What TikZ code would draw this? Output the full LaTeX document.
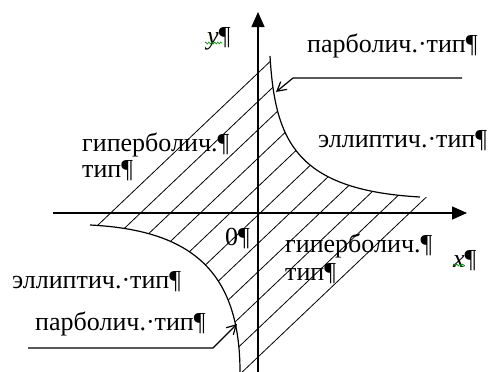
\documentclass[tikz,border=0pt]{standalone}
\usepackage{fontspec}
\setmainfont{Liberation Serif}
\usetikzlibrary{arrows.meta,decorations.pathmorphing}

\begin{document}
\begin{tikzpicture}[x=1pt,y=-1pt,
  axis/.style={line width=1.3pt,-{Triangle[length=15pt,width=13pt]}},
  branch/.style={line width=1.2pt},
  hatch/.style={line width=0.8pt},
  callout/.style={line width=1.2pt,-{Straight Barb[length=9pt,width=10pt]}},
  lbl/.style={anchor=base west,inner sep=0pt,font=\fontsize{26}{27}\selectfont},
  squiggle/.style={green!60!black,line width=0.6pt,decorate,
    decoration={zigzag,segment length=3pt,amplitude=1pt}}]
 \useasboundingbox (0,0) rectangle (490,372);
 \coordinate (O) at (258,213);
 \coordinate (xfrom) at (53,213);
 \coordinate (xto) at (467,213);
 \coordinate (yfrom) at (258,372);
 \coordinate (yto) at (258,12);
 % hatching between the two branches
 \begin{scope}
  \clip (90,225) .. controls (190,230) and (240,270) .. (240,372)
     -- (480,372) -- (480,197) -- (420,197)
     .. controls (295,190) and (275,140) .. (270,56)
     -- (270,0) -- (0,0) -- (0,225) -- cycle;
  \foreach \k in {0,...,10}
   {\draw[hatch] (60,{261.1+28.4*\k}) -- (480,{28.4*\k-137.9});}
 \end{scope}
 % branches
 \draw[branch] (270,56) .. controls (275,140) and (295,190) .. (420,197);
 \draw[branch] (90,225) .. controls (190,230) and (240,270) .. (240,372);
 % axes
 \draw[axis] (xfrom) -- (xto);
 \draw[axis] (yfrom) -- (yto);
 % labels
 \node[lbl] (yname) at (207,44) {\textit{y}¶};
 \draw[squiggle] (205,43) -- (222,43);
 \node[lbl] (xname) at (453,267) {\textit{x}¶};
 \draw[squiggle] (453,265) -- (465,265);
 \node[lbl] (zero) at (225,245) {0¶};
 \node[lbl] (parUR) at (307,52) {парболич.·тип¶};
 \node[lbl] (ellUR) at (318,147) {эллиптич.·тип¶};
 \node[lbl] (hypUL) at (82,151) {гиперболич.¶};
 \node[lbl] (hypULb) at (82,177) {тип¶};
 \node[lbl] (hypLR) at (285,252) {гиперболич.¶};
 \node[lbl] (hypLRb) at (285,280) {тип¶};
 \node[lbl] (ellLL) at (12,288) {эллиптич.·тип¶};
 \node[lbl] (parLL) at (35,330) {парболич.·тип¶};
 % pointers to the parabolic lines
 \coordinate (parURtail) at (462,78);
 \coordinate (parURknee) at (293,78);
 \coordinate (parURtip) at (276,92);
 \draw[callout] (parURtail) -- (parURknee) -- (parURtip);
 \coordinate (parLLtail) at (28,348);
 \coordinate (parLLknee) at (213,348);
 \coordinate (parLLtip) at (237,324);
 \draw[callout] (parLLtail) -- (parLLknee) -- (parLLtip);
\end{tikzpicture}
\end{document}
